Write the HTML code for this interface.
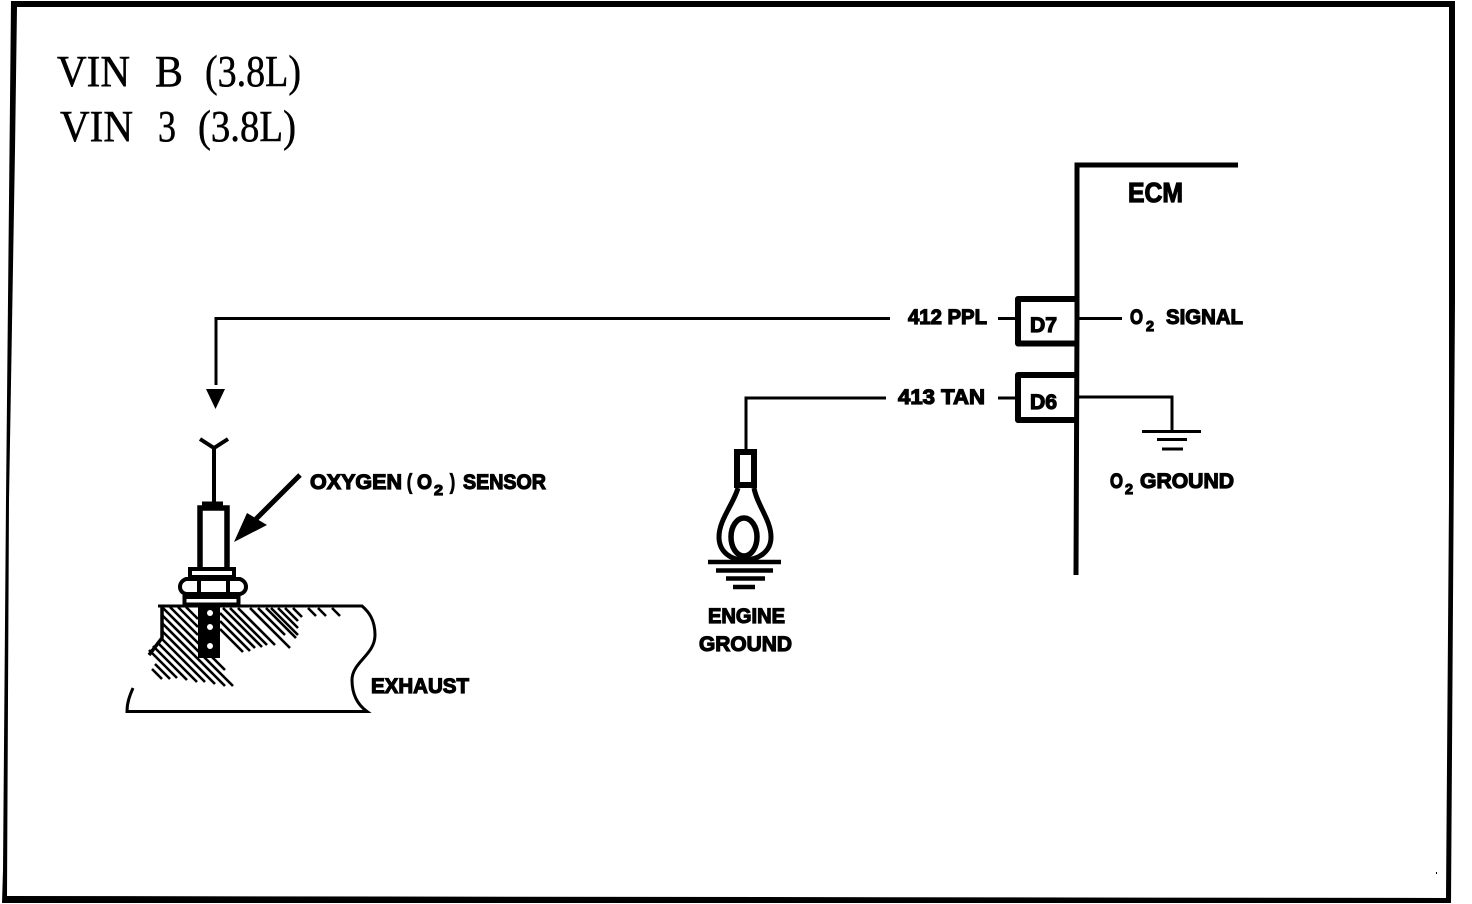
<!DOCTYPE html>
<html><head><meta charset="utf-8"><style>
html,body{margin:0;padding:0;background:#fff}
svg{display:block}
.b{font-family:"Liberation Sans",sans-serif;font-weight:700;fill:#000;stroke:#000;stroke-width:1.2;font-size:21px}
.s{font-family:"Liberation Serif",serif;fill:#000;stroke:#000;stroke-width:.5;font-size:44px}
</style></head><body>
<svg width="1472" height="904" viewBox="0 0 1472 904" xmlns="http://www.w3.org/2000/svg">
<rect width="1472" height="904" fill="#fff"/>
<!-- frame -->
<path fill-rule="evenodd" fill="#000" d="M11 1H1455V300L1451 903H2L3 870L6 500L11 1ZM17 7L15 150L9 500L7 896L1446 898L1449 500L1449 7Z"/>
<rect x="1436" y="872" width="1" height="2" fill="#000"/>
<text class="s" x="57" y="86" textLength="73" lengthAdjust="spacingAndGlyphs">VIN</text>
<text class="s" x="155" y="86" textLength="28" lengthAdjust="spacingAndGlyphs">B</text>
<text class="s" x="205" y="86" textLength="96" lengthAdjust="spacingAndGlyphs">(3.8L)</text>
<text class="s" x="60" y="141" textLength="73" lengthAdjust="spacingAndGlyphs">VIN</text>
<text class="s" x="158" y="141" textLength="18" lengthAdjust="spacingAndGlyphs">3</text>
<text class="s" x="198" y="141" textLength="98" lengthAdjust="spacingAndGlyphs">(3.8L)</text>
<!-- ECM -->
<g fill="none" stroke="#000" stroke-linecap="butt">
<path d="M1238 165H1077V320L1076 575" stroke-width="5"/>
<path d="M1076 299H1018V343.500H1076" stroke-width="6" stroke-linejoin="round"/>
<path d="M1076 375H1018V420H1076" stroke-width="6" stroke-linejoin="round"/>
<path d="M890 318.500H216V385" stroke-width="3"/>
<path d="M998 318.500H1016" stroke-width="3"/>
<path d="M1078 318.500H1122" stroke-width="3"/>
<path d="M886 398H746V450" stroke-width="3"/>
<path d="M998 398H1016" stroke-width="3"/>
<path d="M1078 397H1172V432" stroke-width="3"/>
<path d="M1142 431.500H1201M1157 439.500H1187M1162 449H1183" stroke-width="3"/>
</g>
<path d="M206 389H225L215.500 409Z" fill="#000"/>
<text class="b" x="908" y="324" textLength="79" lengthAdjust="spacingAndGlyphs">412 PPL</text>
<text class="b" x="898" y="404" textLength="87" lengthAdjust="spacingAndGlyphs">413 TAN</text>
<text class="b" x="1030" y="332" textLength="27" lengthAdjust="spacingAndGlyphs">D7</text>
<text class="b" x="1030" y="409" textLength="27" lengthAdjust="spacingAndGlyphs">D6</text>
<text class="b" x="1130" y="324" textLength="13" lengthAdjust="spacingAndGlyphs">O</text>
<text class="b" x="1146" y="331" textLength="8" lengthAdjust="spacingAndGlyphs" style="font-size:15px">2</text>
<text class="b" x="1166" y="324" textLength="77" lengthAdjust="spacingAndGlyphs">SIGNAL</text>
<text class="b" x="1110" y="488" textLength="13" lengthAdjust="spacingAndGlyphs">O</text>
<text class="b" x="1125" y="494" textLength="8" lengthAdjust="spacingAndGlyphs" style="font-size:15px">2</text>
<text class="b" x="1140" y="488" textLength="94" lengthAdjust="spacingAndGlyphs">GROUND</text>
<text class="b" x="1128" y="202" textLength="55" lengthAdjust="spacingAndGlyphs" style="font-size:28px">ECM</text>
<!-- engine ground -->
<rect x="737" y="452" width="17" height="33" fill="#fff" stroke="#000" stroke-width="6"/>
<path d="M738 488C733 505 719 520 719 537C719 552 731 560 744 560C758 560 771 552 771 537C771 520 757 505 754 488" fill="none" stroke="#000" stroke-width="5"/>
<ellipse cx="744" cy="537" rx="13" ry="19" fill="#fff" stroke="#000" stroke-width="5.500"/>
<path d="M708 562H781M716 570.500H773M726 578.500H765M733 587H755" stroke="#000" stroke-width="4.500" fill="none"/>
<text class="b" x="708" y="623" textLength="77" lengthAdjust="spacingAndGlyphs">ENGINE</text>
<text class="b" x="699" y="651" textLength="93" lengthAdjust="spacingAndGlyphs">GROUND</text>
<!-- sensor -->
<g fill="none" stroke="#000">
<path d="M200 439L214 448L228 439M214 448V503" stroke-width="4"/>
<rect x="200" y="508" width="27" height="62" stroke-width="5.500" fill="#fff"/>
<path d="M202 504.500H223" stroke-width="6"/>
<rect x="190" y="569" width="44" height="8" stroke-width="4" fill="#fff"/>
<path d="M186 579H240C248 582 248 592 240 594H186C178 592 178 582 186 579Z" stroke-width="4" fill="#fff"/>
<path d="M199 579V594H228V579" stroke-width="4"/>
<rect x="184.500" y="597" width="54" height="7.500" stroke-width="4" fill="#fff"/>
<path d="M158 606H362C369 612 375 620 375 635C375 655 352 662 352 680C352 695 358 705 367 711.500H127C127 702 130 695 133 688" stroke-width="3"/>
<path d="M162 606V638L149 655" stroke-width="3.500"/>
<path stroke-width="2.600" d="M186 607L198 619M178 607L198 627M170 607L198 635M162 607L225 670M162 615L233 686M162 623L225 686M162 631L215 684M162 639L205 682M157 642L197 682M153 646L187 680M149 650L177 678M155 664L170 679M152 669L162 679M220 629L243 652M220 621L250 651M220 613L255 648M223 608L262 647M230 608L267 645M238 608L275 645M250 608L290 648M258 608L285 635M266 608L296 638M271 608L298 635M278 608L298 628M285 608L298 621M293 608L302 617M308 608L316 616M318 608L326 616M332 608L340 616"/>
</g>
<rect x="198" y="606" width="22" height="52" fill="#000"/>
<g fill="#fff"><ellipse cx="210" cy="613" rx="3" ry="3"/><ellipse cx="210" cy="627" rx="3" ry="3"/><ellipse cx="210" cy="646" rx="3" ry="3"/></g>
<path d="M300 475L256 519" stroke="#000" stroke-width="5" fill="none"/>
<path d="M234 542L247 513L267 525Z" fill="#000"/>
<text class="b" x="310" y="489" textLength="92" lengthAdjust="spacingAndGlyphs">OXYGEN</text>
<text class="b" x="407" y="489" textLength="5" lengthAdjust="spacingAndGlyphs">(</text>
<text class="b" x="417" y="489" textLength="15" lengthAdjust="spacingAndGlyphs">O</text>
<text class="b" x="434" y="495" textLength="9" lengthAdjust="spacingAndGlyphs" style="font-size:15px">2</text>
<text class="b" x="450" y="489" textLength="5" lengthAdjust="spacingAndGlyphs">)</text>
<text class="b" x="463" y="489" textLength="83" lengthAdjust="spacingAndGlyphs">SENSOR</text>
<text class="b" x="371" y="693" textLength="98" lengthAdjust="spacingAndGlyphs">EXHAUST</text>
</svg>
</body></html>
